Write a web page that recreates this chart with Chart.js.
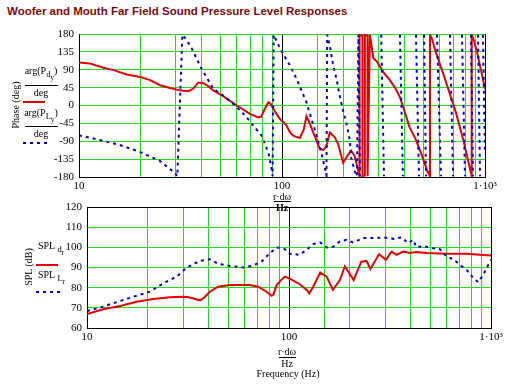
<!DOCTYPE html>
<html>
<head>
<meta charset="utf-8">
<script src="https://cdn.jsdelivr.net/npm/chart.js@4.4.0/dist/chart.umd.min.js"></script>
<style>
body { margin: 0; background: #fff; }
#page { position: relative; width: 512px; height: 384px; overflow: hidden; font-family: 'Liberation Serif', 'Times New Roman', serif; font-size: 10px; color: #000; }
.t { position: absolute; white-space: nowrap; line-height: 1; }
.c { transform: translateX(-50%); text-align: center; }
.rot { transform: translate(-50%, -50%) rotate(-90deg); }
sub { font-size: 85%; vertical-align: -3px; }
.frac { position: absolute; border-top: 1px solid #000; height: 0; }
.red { position: absolute; height: 2px; background: #e00000; }
.blue { position: absolute; height: 2px; background: repeating-linear-gradient(90deg, #0000c8 0 3px, transparent 3px 7px); }
canvas { position: absolute; left: 0; }
</style>
</head>
<body>
<div id="page">
  <div class="t" style="left:7px;top:5px;font:bold 11.5px 'Liberation Sans',Arial,sans-serif;color:#7a0a0a">Woofer and Mouth Far Field Sound Pressure Level Responses</div>

  <canvas id="phase" width="512" height="195" style="top:0;width:512px;height:195px"></canvas>
  <canvas id="spl" width="512" height="189" style="top:195px;width:512px;height:189px"></canvas>

  <!-- top panel side labels -->
  <div class="t rot" style="left:16px;top:105px">Phase (deg)</div>
  <div class="t c" style="left:41px;top:66px">arg(P<sub>d<sub>y</sub></sub>)</div>
  <div class="frac" style="left:25px;top:85px;width:33px"></div>
  <div class="t c" style="left:41px;top:88px">deg</div>
  <div class="red" style="left:23px;top:101px;width:22px"></div>
  <div class="t c" style="left:41px;top:108px">arg(P<sub>L<sub>y</sub></sub>)</div>
  <div class="frac" style="left:25px;top:126px;width:33px"></div>
  <div class="t c" style="left:41px;top:129px">deg</div>
  <div class="blue" style="left:23px;top:142px;width:24px"></div>

  <div class="t c" style="left:282px;top:192px">r·dω</div>
  <div class="frac" style="left:274px;top:201px;width:17px"></div>
  <div class="t c" style="left:282px;top:203px;font-weight:bold">Hz</div>

  <!-- bottom panel side labels -->
  <div class="t rot" style="left:29px;top:267px">SPL (dB)</div>
  <div class="t" style="left:38px;top:241px">SPL <sub>d<sub>r</sub></sub></div>
  <div class="red" style="left:36px;top:264px;width:22px"></div>
  <div class="t" style="left:38px;top:270px">SPL <sub>L<sub>r</sub></sub></div>
  <div class="blue" style="left:36px;top:291px;width:24px"></div>

  <div class="t c" style="left:287px;top:347px">r·dω</div>
  <div class="frac" style="left:279px;top:357px;width:17px"></div>
  <div class="t c" style="left:287px;top:359px">Hz</div>
  <div class="t c" style="left:288px;top:369px">Frequency (Hz)</div>
</div>

<script>
// phase of woofer (d) and mouth (L), degrees, wrapped to +-180
const phaseFreqD = [10, 11.3, 13.2, 14.8, 17.2, 20, 22.4, 25.1, 28.1, 30.3, 32.5, 34.6, 36.5, 38.7, 41, 43.5, 45.9, 51.5, 59.9, 69.5, 76.4, 79, 82, 85.7, 88, 90.6, 95, 97.8, 101.8, 105.5, 109, 113.6, 122.5, 128, 132, 137, 142.5, 153.5, 160, 165.6, 172, 182, 189, 200, 208, 219, 228, 236, 241, 241, 249, 249, 256, 256, 264, 264, 271, 276, 282, 292, 305, 320, 340, 360, 381, 403, 425, 452, 487, 520, 536, 536, 550, 568, 638, 715, 784, 860, 860, 880, 909, 1000]
const phaseD = [108, 106, 95, 89, 78, 72, 64, 51, 44, 40, 37, 36, 42, 58, 56, 48, 38, 23, 0, -21, -30, -28, -10, 8, 4, -8, -25, -34, -42, -51, -66, -76, -82, -60, -27, -45, -68, -108, -112, -102, -68, -80, -97, -144, -130, -114, -127, -160, -178, 178, 176, -178, -176, 178, 176, -178, 178, 150, 119, 112, 97, 80, 64, 45, 21, -17, -55, -81, -123, -165, -178, 178, 165, 140, 64, -13, -89, -178, 178, 165, 140, 42]

const phaseFreqL = [10, 13.2, 16, 20, 25.1, 29.7, 30.5, 32.3, 33.9, 35.9, 40.1, 45.9, 52.6, 59.9, 65.8, 72.3, 79.4, 85.7, 89, 89.9, 91, 97.8, 101.8, 107, 117.8, 132, 148, 159, 165.6, 167, 172, 178, 186, 193, 200, 208, 216, 219, 228, 234, 238, 242, 243,
  308, 318, 319, 381, 394, 395, 457, 473, 474, 501, 512, 513, 580, 607, 608, 672, 696, 697, 770, 797, 798, 853, 873, 874, 924, 945, 946, 977, 1000]
const phaseL = [-75, -89, -100, -117, -140, -170, -178, 178, 165, 144, 93, 42, 21, -4, -25, -51, -76, -119, -161, -178, 178, 144, 127, 110, 68, 8, -76, -135, -176, 178, 150, 106, 64, 21, -13, -47, -89, -131, -165, -178, 178, -178, null,
  178, -178, null, 178, -178, null, 178, -178, null, 178, -178, null, 178, -178, null, 178, -178, null, 178, -178, null, 178, -178, null, 178, -178, null, 178, -120]

// sound pressure level, dB
const splFreqD = [10, 12, 14.6, 17.6, 21.3, 25.7, 30, 32, 34, 36.2, 38, 40.6, 44.6, 51, 64, 70.4, 77.5, 82, 83.6, 86.9, 92, 95.5, 101, 113, 122.5, 126, 131, 142.7, 153.6, 165, 178.6, 189, 209, 228, 242, 253, 279, 302, 322, 341, 367, 397, 427, 479, 603, 758, 881, 1000]
const splD = [66.9, 69.3, 70.9, 73, 74.4, 75.2, 75.5, 75.2, 74.5, 73.7, 75, 78, 80.5, 81.3, 81.3, 80.5, 78, 76, 76.5, 81.3, 84, 85.5, 84.5, 81.7, 78.9, 77.2, 80, 87.5, 85.5, 78.9, 83.8, 90.5, 83.8, 92.9, 93.3, 89.3, 96.6, 93.8, 97.9, 96.3, 97.9, 97.2, 97.7, 97.2, 96.8, 96.8, 96.3, 95.9]

const splFreqL = [10, 12, 14.6, 17.6, 20.5, 23.9, 27.8, 31.2, 36.2, 40.6, 44.6, 51, 59.4, 66.5, 73.1, 80.4, 86.9, 94, 101, 113, 122.5, 131.5, 142.7, 153.6, 165.3, 178.6, 192.6, 207.6, 233, 261.6, 292.7, 329, 361, 389, 412, 427, 461, 518, 558, 603, 651, 702, 758, 818, 866, 914, 969, 1000]
const splL = [68.4, 70.6, 73.4, 76, 78, 82.2, 85.5, 90, 93.3, 94.1, 91.8, 90.8, 90, 91, 92.9, 97.1, 99.9, 99.6, 96.8, 96.3, 98.8, 101.6, 102.4, 99.9, 100.3, 102.9, 103.7, 102.4, 104.6, 104.6, 104.9, 104.2, 104.9, 102.1, 103.7, 100.1, 100.6, 99.6, 99.1, 95.4, 94.1, 91.3, 88.8, 84.7, 82.7, 86.3, 91.3, 93.8]

const freqLabels = { 10: '10', 100: '100', 1000: '1·10³' }

const red = '#e00000'
const blue = '#0000c8'
const green = '#22d822'
const tickFont = { family: "'Liberation Serif', 'Times New Roman', serif", size: 11 }

const pts = (xs, ys) => xs.map((x, i) => ({ x: x, y: ys[i] }))

function xAxis(height) {
  return {
    type: 'logarithmic',
    min: 10,
    max: 1000,
    afterFit: (s) => { s.height = height },
    border: { display: true, color: '#000' },
    grid: {
      drawTicks: false,
      color: (c) => (c.tick && freqLabels[c.tick.value]) ? '#000' : green
    },
    ticks: {
      autoSkip: false,
      maxRotation: 0,
      padding: 3,
      color: '#000',
      font: tickFont,
      callback: (v) => freqLabels[v] || ''
    }
  }
}

function yAxis(width, min, max, step, blackAt) {
  return {
    min: min,
    max: max,
    afterFit: (s) => { s.width = width },
    border: { display: true, color: '#000' },
    grid: {
      drawTicks: false,
      color: (c) => (c.tick && blackAt.includes(c.tick.value)) ? '#000' : green
    },
    ticks: { stepSize: step, padding: 5, color: '#000', font: tickFont }
  }
}

function lineSet(data, color, dashed) {
  return {
    data: data,
    borderColor: color,
    borderWidth: 2,
    borderDash: dashed ? [3, 4] : [],
    pointRadius: 0,
    tension: 0,
    spanGaps: false,
    fill: false
  }
}

const common = {
  responsive: false,
  animation: false,
  events: [],
  plugins: { legend: { display: false }, tooltip: { enabled: false } }
}

new Chart(document.getElementById('phase'), {
  type: 'line',
  data: {
    datasets: [
      lineSet(pts(phaseFreqL, phaseL), blue, true),
      lineSet(pts(phaseFreqD, phaseD), red, false)
    ]
  },
  options: Object.assign({}, common, {
    layout: { padding: { top: 34, right: 27, bottom: 0, left: 0 } },
    scales: {
      x: xAxis(18),
      y: yAxis(79, -180, 180, 45, [-180])
    }
  })
})

new Chart(document.getElementById('spl'), {
  type: 'line',
  data: {
    datasets: [
      lineSet(pts(splFreqL, splL), blue, true),
      lineSet(pts(splFreqD, splD), red, false)
    ]
  },
  options: Object.assign({}, common, {
    layout: { padding: { top: 12, right: 21, bottom: 40, left: 0 } },
    scales: {
      x: xAxis(16),
      y: yAxis(87, 60, 120, 10, [60, 120])
    }
  })
})
</script>
</body>
</html>
